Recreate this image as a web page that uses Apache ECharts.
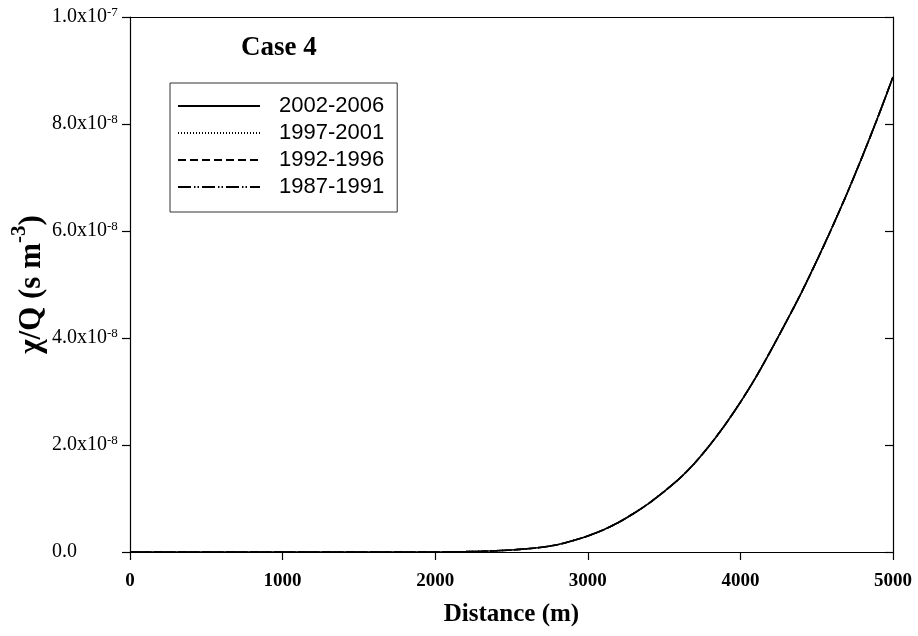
<!DOCTYPE html>
<html>
<head>
<meta charset="utf-8">
<script src="https://cdn.jsdelivr.net/npm/echarts@6/dist/echarts.min.js"></script>
<style>
  html, body { margin: 0; padding: 0; background: #ffffff; }
  #chart { width: 918px; height: 636px; }
</style>
</head>
<body>
<div id="chart"></div>
<script>
// Downwind distance (m)
const distances = [0, 500, 1000, 1500, 2000, 2100, 2200, 2300, 2400, 2500, 2600, 2700, 2800, 2900,
  3000, 3100, 3200, 3300, 3400, 3500, 3600, 3700, 3800, 3900,
  4000, 4100, 4200, 4300, 4400, 4500, 4600, 4700, 4800, 4900, 5000];

// Dilution factor chi/Q (s m^-3) for each five-year period
const period2002_2006 = [0, 0, 0, 0, 0, 2e-11, 6e-11, 1.3e-10, 2.4e-10, 3.8e-10, 6.0e-10, 9.0e-10, 1.35e-9, 2.1e-9,
  3.0e-9, 4.1e-9, 5.5e-9, 7.2e-9, 9.1e-9, 1.13e-8, 1.37e-8, 1.66e-8, 2.00e-8, 2.38e-8,
  2.80e-8, 3.26e-8, 3.77e-8, 4.30e-8, 4.85e-8, 5.44e-8, 6.06e-8, 6.71e-8, 7.40e-8, 8.12e-8, 8.88e-8];
const period1997_2001 = [0, 0, 0, 0, 0, 2e-11, 6e-11, 1.3e-10, 2.4e-10, 3.8e-10, 6.0e-10, 9.0e-10, 1.35e-9, 2.1e-9,
  3.0e-9, 4.1e-9, 5.5e-9, 7.2e-9, 9.1e-9, 1.13e-8, 1.37e-8, 1.66e-8, 2.00e-8, 2.38e-8,
  2.80e-8, 3.26e-8, 3.77e-8, 4.30e-8, 4.85e-8, 5.44e-8, 6.06e-8, 6.71e-8, 7.40e-8, 8.12e-8, 8.88e-8];
const period1992_1996 = [0, 0, 0, 0, 0, 2e-11, 6e-11, 1.3e-10, 2.4e-10, 3.8e-10, 6.0e-10, 9.0e-10, 1.35e-9, 2.1e-9,
  3.0e-9, 4.1e-9, 5.5e-9, 7.2e-9, 9.1e-9, 1.13e-8, 1.37e-8, 1.66e-8, 2.00e-8, 2.38e-8,
  2.80e-8, 3.26e-8, 3.77e-8, 4.30e-8, 4.85e-8, 5.44e-8, 6.06e-8, 6.71e-8, 7.40e-8, 8.12e-8, 8.88e-8];
const period1987_1991 = [0, 0, 0, 0, 0, 2e-11, 6e-11, 1.3e-10, 2.4e-10, 3.8e-10, 6.0e-10, 9.0e-10, 1.35e-9, 2.1e-9,
  3.0e-9, 4.1e-9, 5.5e-9, 7.2e-9, 9.1e-9, 1.13e-8, 1.37e-8, 1.66e-8, 2.00e-8, 2.38e-8,
  2.80e-8, 3.26e-8, 3.77e-8, 4.30e-8, 4.85e-8, 5.44e-8, 6.06e-8, 6.71e-8, 7.40e-8, 8.12e-8, 8.88e-8];

const periodNames = ['2002-2006', '1997-2001', '1992-1996', '1987-1991'];
const periodValues = [period2002_2006, period1997_2001, period1992_1996, period1987_1991];
const periodDash = ['solid', [1, 2], [8, 4], [13, 3, 1.5, 2, 1.5, 3]];

const yMin = 0, yMax = 1e-7, yStep = 2e-8;
const xMin = 0, xMax = 5000, xStep = 1000;

const SERIF = '"Liberation Serif", "Times New Roman", serif';
const SANS = '"Liberation Sans", Arial, sans-serif';

// "8.0x10^-8" style tick text with a raised exponent
function sciLabel(v) {
  if (Math.abs(v) < 1e-20) return '{m|0.0}';
  const exp = Math.floor(Math.log10(v) + 1e-9);
  const mant = (v / Math.pow(10, exp)).toFixed(1);
  return '{m|' + mant + 'x10}{s|' + exp + '}';
}

const series = [];
for (let k = periodNames.length - 1; k >= 0; k--) {
  series.push({
    name: periodNames[k],
    type: 'line',
    xAxisIndex: 0,
    yAxisIndex: 0,
    data: distances.map((d, i) => [d, periodValues[k][i]]),
    showSymbol: false,
    symbol: 'none',
    smooth: 0.25,
    silent: true,
    itemStyle: { color: '#000' },
    lineStyle: { color: '#000', width: 1.6, type: periodDash[k] }
  });
}

const chart = echarts.init(document.getElementById('chart'), null, { renderer: 'canvas' });
chart.setOption({
  animation: false,
  backgroundColor: '#ffffff',
  grid: { left: 130, right: 25, top: 17, bottom: 84, containLabel: false, outerBoundsMode: 'none' },
  title: {
    text: 'Case 4',
    left: 236, top: 30,
    textStyle: { fontFamily: SERIF, fontWeight: 'bold', fontSize: 27, color: '#000' }
  },
  legend: {
    data: periodNames,
    orient: 'vertical',
    left: 170, top: 83,
    padding: [12, 13, 14, 7],
    itemWidth: 82, itemHeight: 14, itemGap: 5,
    borderColor: '#333', borderWidth: 1,
    selectedMode: false,
    itemStyle: { opacity: 0 },
    textStyle: { fontFamily: SANS, fontSize: 22, color: '#000', lineHeight: 22, padding: [0, 0, 0, 14] }
  },
  xAxis: [{
    type: 'value', position: 'bottom',
    min: xMin, max: xMax, interval: xStep,
    name: 'Distance (m)', nameLocation: 'middle', nameGap: 50, nameMoveOverlap: false,
    nameTextStyle: { fontFamily: SERIF, fontWeight: 'bold', fontSize: 25, color: '#000' },
    axisLine: { show: true, onZero: false, lineStyle: { color: '#000', width: 1.2 } },
    axisTick: { show: true, inside: false, length: 8, lineStyle: { color: '#000', width: 1.2 } },
    axisLabel: {
      margin: 20, fontFamily: SERIF, fontWeight: 'bold', fontSize: 19, color: '#000',
      formatter: v => String(v)
    },
    splitLine: { show: false }
  }, {
    type: 'value', position: 'top',
    min: xMin, max: xMax, interval: xStep,
    axisLine: { show: true, onZero: false, lineStyle: { color: '#000', width: 1.2 } },
    axisTick: { show: false }, axisLabel: { show: false }, splitLine: { show: false }
  }],
  yAxis: [{
    type: 'value', position: 'left',
    min: yMin, max: yMax, interval: yStep,
    name: '{m|χ/Q (s m}{s|-3}{m|)}', nameLocation: 'middle', nameRotate: 90, nameGap: 83,
    nameMoveOverlap: false,
    nameTextStyle: {
      color: '#000',
      rich: {
        m: { fontFamily: SERIF, fontWeight: 'bold', fontSize: 31, lineHeight: 38, verticalAlign: 'bottom', color: '#000' },
        s: { fontFamily: SERIF, fontWeight: 'bold', fontSize: 21, lineHeight: 21, verticalAlign: 'top', color: '#000' }
      }
    },
    axisLine: { show: true, onZero: false, lineStyle: { color: '#000', width: 1.2 } },
    axisTick: { show: true, inside: false, length: 8, lineStyle: { color: '#000', width: 1.2 } },
    axisLabel: {
      margin: 78, align: 'left',
      formatter: sciLabel,
      rich: {
        m: { fontFamily: SERIF, fontSize: 20, lineHeight: 22, color: '#000' },
        s: { fontFamily: SERIF, fontSize: 13, lineHeight: 13, verticalAlign: 'top', color: '#000' }
      }
    },
    splitLine: { show: false }
  }, {
    type: 'value', position: 'right',
    min: yMin, max: yMax, interval: yStep,
    axisLine: { show: true, onZero: false, lineStyle: { color: '#000', width: 1.2 } },
    axisTick: { show: true, inside: true, length: 8, lineStyle: { color: '#000', width: 1.2 } },
    axisLabel: { show: false }, splitLine: { show: false }
  }],
  series: series
});
</script>
</body>
</html>
